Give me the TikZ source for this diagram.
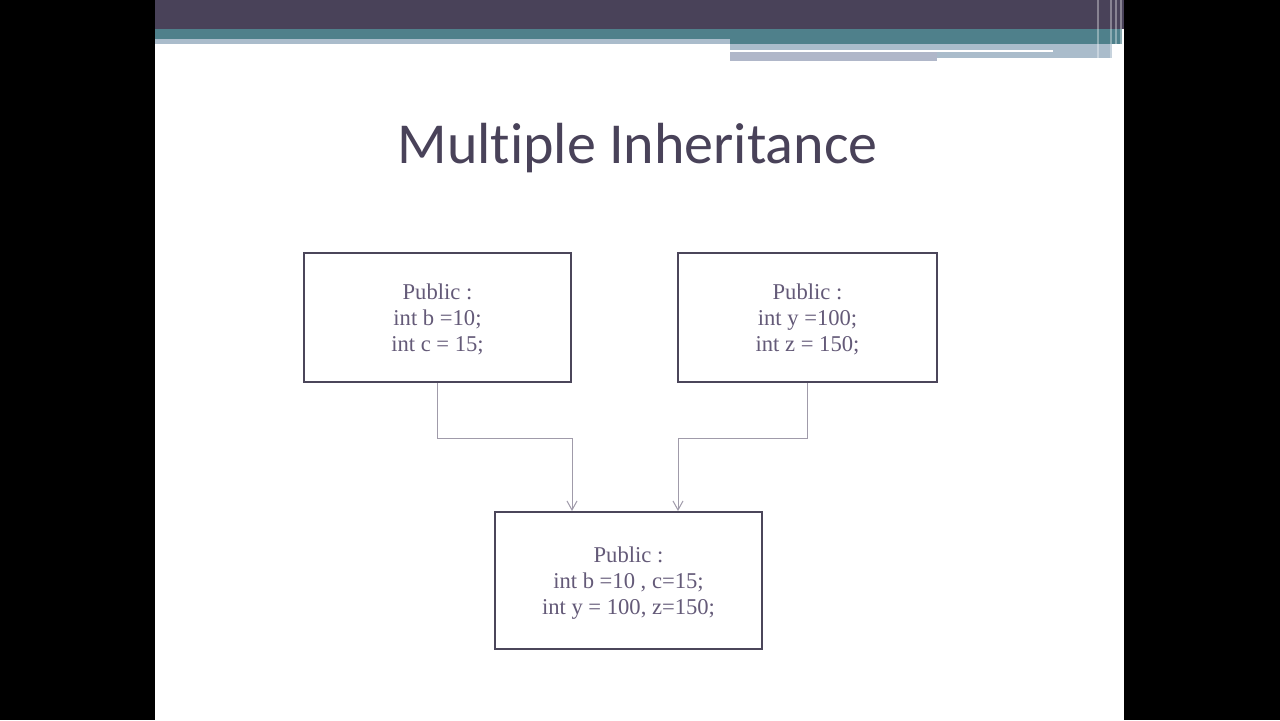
\documentclass[tikz,border=0pt]{standalone}
\usepackage{fontspec}
\setmainfont{Liberation Serif}
\newfontfamily\titlefont[Ligatures=NoCommon]{Carlito}
\usetikzlibrary{arrows.meta}

\definecolor{barDark}{RGB}{73,66,89}
\definecolor{barTeal}{RGB}{79,128,139}
\definecolor{barLight}{RGB}{170,188,203}
\definecolor{barGray}{RGB}{176,183,201}
\definecolor{boxLine}{RGB}{75,70,90}
\definecolor{boxText}{RGB}{100,90,120}
\definecolor{linkLine}{RGB}{160,155,170}

\begin{document}
\begin{tikzpicture}[x=0.5pt,y=-0.5pt,
  classbox/.style={draw=boxLine,line width=1pt,text=boxText,align=center,
    font=\fontsize{11.3}{13}\selectfont,inner sep=0pt},
  link/.style={draw=linkLine,line width=0.5pt,-{Straight Barb[length=4.5pt,width=5pt]}}]
  \useasboundingbox (0,0) rectangle (1280,720);
  % slide and header bars
  \fill[black] (0,0) rectangle (1280,720);
  \fill[white] (155,0) rectangle (1124,720);
  \fill[barDark] (155,0) rectangle (1124,29);
  \fill[barTeal] (155,29) rectangle (1122,39);
  \fill[barLight] (155,39) rectangle (730,44);
  \fill[barTeal] (730,39) rectangle (1122,44);
  \fill[barLight] (730,44) rectangle (1112,58);
  \fill[white] (730,50) rectangle (1053,52);
  \fill[barGray] (730,52) rectangle (937,61);
  \foreach \x in {1097,1110,1115,1120}
    \fill[white,opacity=0.35] (\x,0) rectangle ++(2,60);

  \node[text=barDark,font=\titlefont\fontsize{29}{34}\selectfont,anchor=base] (title) at (637.5,163) {Multiple Inheritance};

  % classes
  \node[classbox,minimum width=133.5pt,minimum height=64.5pt] (base1) at (437.5,317.5)
    {Public :\\int b =10;\\int c = 15;\\[-13.5pt]\mbox{}};
  \node[classbox,minimum width=129.5pt,minimum height=64.5pt] (base2) at (807.5,317.5)
    {Public :\\int y =100;\\int z = 150;\\[-13.5pt]\mbox{}};
  \node[classbox,minimum width=133.5pt,minimum height=68.5pt] (derived) at (628.5,580.5)
    {Public :\\int b =10 , c=15;\\int y = 100, z=150;\\[-13.5pt]\mbox{}};

  % inheritance links
  \draw[link] (base1.south) -- ++(0,55) -| (base1.east |- derived.north);
  \draw[link] (base2.south) -- ++(0,55) -| ([xshift=0.5pt]base2.west |- derived.north);
\end{tikzpicture}
\end{document}
